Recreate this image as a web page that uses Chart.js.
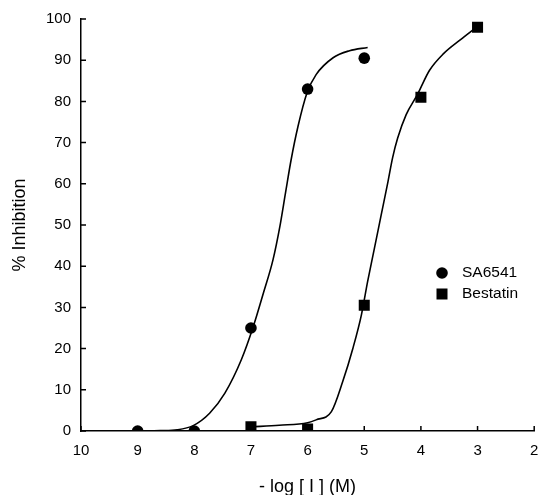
<!DOCTYPE html>
<html>
<head>
<meta charset="utf-8">
<script src="https://cdn.jsdelivr.net/npm/chart.js@4.4.1/dist/chart.umd.min.js"></script>
<style>
  html, body { margin: 0; padding: 0; background: #fff; }
  #wrap { width: 542px; height: 495px; }
</style>
</head>
<body>
<div id="wrap"><canvas id="c" width="542" height="495"></canvas></div>
<script>
// ---- data ----
const seriesNames = ['SA6541', 'Bestatin'];

const saX = [9, 8, 7, 6, 5];
const saY = [0, 0, 25, 83, 90.5];

const bestX = [7, 6, 5, 4, 3];
const bestY = [1, 0.5, 30.5, 81, 98];

// fitted curves
const saCurveX = [9.0, 8.6, 8.3, 8.02, 7.73, 7.46, 7.17, 6.96, 6.78, 6.61, 6.49, 6.39, 6.29, 6.17, 6.01, 5.85, 5.55, 5.26, 4.94];
const saCurveY = [0.0, 0.1, 0.3, 1.3, 4.3, 9.2, 17.3, 25.3, 33.5, 41.6, 49.6, 57.8, 65.9, 73.9, 82.1, 86.5, 90.6, 92.3, 93.1];

const bestCurveX = [7.0, 6.5, 6.0, 5.85, 5.58, 5.38, 5.2, 5.05, 4.94, 4.82, 4.7, 4.58, 4.5, 4.41, 4.26, 4.06, 3.85, 3.6, 3.3, 3.02];
const bestCurveY = [1.0, 1.4, 2.0, 2.7, 4.7, 12.0, 20.1, 28.2, 36.3, 44.4, 52.5, 60.6, 66.3, 71.1, 76.8, 81.7, 87.5, 91.6, 95.0, 98.0];

const xTicks = [10, 9, 8, 7, 6, 5, 4, 3, 2];
const yTicks = [0, 10, 20, 30, 40, 50, 60, 70, 80, 90, 100];

const xTitle = '- log [ I ] (M)';
const yTitle = '% Inhibition';

// ---- build ----
const toXY = (xs, ys) => xs.map((x, i) => ({ x: x, y: ys[i] }));
const FONT = 'Liberation Sans, Arial, Helvetica, sans-serif';

const inwardTicks = {
  id: 'inwardTicks',
  afterDraw(chart) {
    const ctx = chart.ctx;
    const xs = chart.scales.x, ys = chart.scales.y;
    const area = chart.chartArea;
    ctx.save();
    ctx.strokeStyle = '#000';
    ctx.lineWidth = 1.5;
    ctx.beginPath();
    xTicks.forEach(v => {
      const px = xs.getPixelForValue(v);
      ctx.moveTo(px, area.bottom);
      ctx.lineTo(px, area.bottom - 5);
    });
    yTicks.forEach(v => {
      const py = ys.getPixelForValue(v);
      ctx.moveTo(area.left, py);
      ctx.lineTo(area.left + 5, py);
    });
    ctx.stroke();
    ctx.restore();
  }
};

const customLegend = {
  id: 'customLegend',
  afterDraw(chart) {
    const ctx = chart.ctx;
    ctx.save();
    ctx.fillStyle = '#000';
    ctx.font = '15.5px ' + FONT;
    ctx.textBaseline = 'middle';
    ctx.textAlign = 'left';
    const mx = 442, tx = 462;
    const rows = [273, 294];
    ctx.beginPath();
    ctx.arc(mx, rows[0], 5.8, 0, Math.PI * 2);
    ctx.fill();
    ctx.fillText(seriesNames[0], tx, rows[0]);
    ctx.fillRect(mx - 5.5, rows[1] - 5.5, 11, 11);
    ctx.fillText(seriesNames[1], tx, rows[1]);
    ctx.restore();
  }
};

new Chart(document.getElementById('c'), {
  type: 'scatter',
  data: {
    datasets: [
      {
        label: seriesNames[0] + ' fit',
        data: toXY(saCurveX, saCurveY),
        showLine: true,
        borderColor: '#000',
        borderWidth: 1.6,
        pointRadius: 0,
        cubicInterpolationMode: 'monotone',
        fill: false
      },
      {
        label: seriesNames[1] + ' fit',
        data: toXY(bestCurveX, bestCurveY),
        showLine: true,
        borderColor: '#000',
        borderWidth: 1.6,
        pointRadius: 0,
        cubicInterpolationMode: 'monotone',
        fill: false
      },
      {
        label: seriesNames[0],
        data: toXY(saX, saY),
        showLine: false,
        pointStyle: 'circle',
        pointRadius: 5.8,
        backgroundColor: '#000',
        borderColor: '#000',
        borderWidth: 0
      },
      {
        label: seriesNames[1],
        data: toXY(bestX, bestY),
        showLine: false,
        pointStyle: 'rect',
        pointRadius: 7.8,
        backgroundColor: '#000',
        borderColor: '#000',
        borderWidth: 0
      }
    ]
  },
  options: {
    responsive: false,
    animation: false,
    layout: { padding: { top: 19, right: 7, left: 4, bottom: 0 } },
    plugins: {
      legend: { display: false },
      tooltip: { enabled: false }
    },
    scales: {
      x: {
        type: 'linear',
        reverse: true,
        min: 2,
        max: 10,
        afterBuildTicks(scale) { scale.ticks = xTicks.map(v => ({ value: v })); },
        afterFit(scale) {
          scale.height = 64;
          scale.paddingLeft = 0;
          scale.paddingRight = 0;
        },
        grid: { display: true, drawOnChartArea: false, drawTicks: false },
        border: { display: true, color: '#000', width: 1.5 },
        ticks: {
          color: '#000',
          font: { family: FONT, size: 15 },
          padding: 11,
          maxRotation: 0,
          autoSkip: false
        },
        title: {
          display: true,
          text: xTitle,
          color: '#000',
          font: { family: FONT, size: 18 },
          padding: { top: 0, bottom: -3 }
        }
      },
      y: {
        type: 'linear',
        min: 0,
        max: 100,
        afterBuildTicks(scale) { scale.ticks = yTicks.map(v => ({ value: v })); },
        afterFit(scale) { scale.width = 77; },
        grid: { display: true, drawOnChartArea: false, drawTicks: false },
        border: { display: true, color: '#000', width: 1.5 },
        ticks: {
          color: '#000',
          font: { family: FONT, size: 15 },
          padding: 10,
          autoSkip: false
        },
        title: {
          display: true,
          text: yTitle,
          color: '#000',
          font: { family: FONT, size: 18 },
          padding: { top: 5.5, bottom: 0 }
        }
      }
    }
  },
  plugins: [inwardTicks, customLegend]
});
</script>
</body>
</html>
